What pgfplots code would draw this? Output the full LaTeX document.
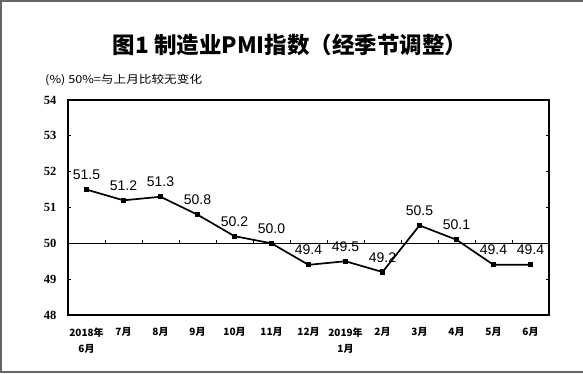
\documentclass[border=0pt]{standalone}
\usepackage{pgfplots}
\pgfplotsset{compat=1.18}
\usepackage{fontspec}
\setmainfont{Liberation Serif}
\newfontfamily\cjk{Noto Sans CJK SC}
\newfontfamily\arial{Liberation Sans}
\pgfplotstableread{
x y
0 51.5
1 51.2
2 51.3
3 50.8
4 50.2
5 50.0
6 49.4
7 49.5
8 49.2
9 50.5
10 50.1
11 49.4
12 49.4
}\pmidata
\begin{document}
\begin{tikzpicture}[x=1pt,y=1pt]
\useasboundingbox (0,0) rectangle (583,373);
\draw[line width=2pt, color=black!60] (583,372) -- (1,372) -- (1,1) -- (583,1);
\node[font=\cjk\bfseries\fontsize{22.5}{26}\selectfont] at (290,328) {图1 制造业PMI指数（经季节调整）};
\node[anchor=west, font=\cjk\fontsize{11}{12}\selectfont, inner sep=0, xscale=1.15] at (45,293) {(\%) 50\%=与上月比较无变化};
\begin{axis}[at={(68pt,58pt)}, anchor=south west, scale only axis,
  width=481pt, height=215pt,
  xmin=-0.5, xmax=12.5, ymin=48, ymax=54,
  ytick={48,49,...,54}, xtick={0,...,12},
  xticklabels={{2018年\\6月},7月,8月,9月,10月,11月,12月,{2019年\\1月},2月,3月,4月,5月,6月},
  xticklabel style={align=center, font=\cjk\bfseries\fontsize{10}{16}\selectfont, yshift=-9pt},
  yticklabel style={font=\bfseries\fontsize{12.5}{13}\selectfont, xshift=-8pt},
  /pgf/number format/assume math mode=true,
  major x tick style={draw=none},
  ytick align=inside, major tick length=3pt,
  axis line style={line width=1.2pt},
  tick style={line width=0.8pt, black},
  clip=false,
]
\draw[line width=1.1pt] (axis cs:-0.5,50) -- (axis cs:12.5,50);
\pgfplotsinvokeforeach{0,...,11}{
  \draw[line width=0.8pt] (axis cs:#1.5,50) -- ([yshift=3pt]axis cs:#1.5,50);
}
\addplot[black, line width=1.7pt, mark=square*, mark size=1.8pt,
  nodes near coords, point meta=explicit symbolic,
  every node near coord/.style={font=\arial\fontsize{14}{14}\selectfont, anchor=south, inner sep=0pt, yshift=9pt}]
  table[x=x, y=y, meta=y] {\pmidata};
\end{axis}
\end{tikzpicture}
\end{document}
